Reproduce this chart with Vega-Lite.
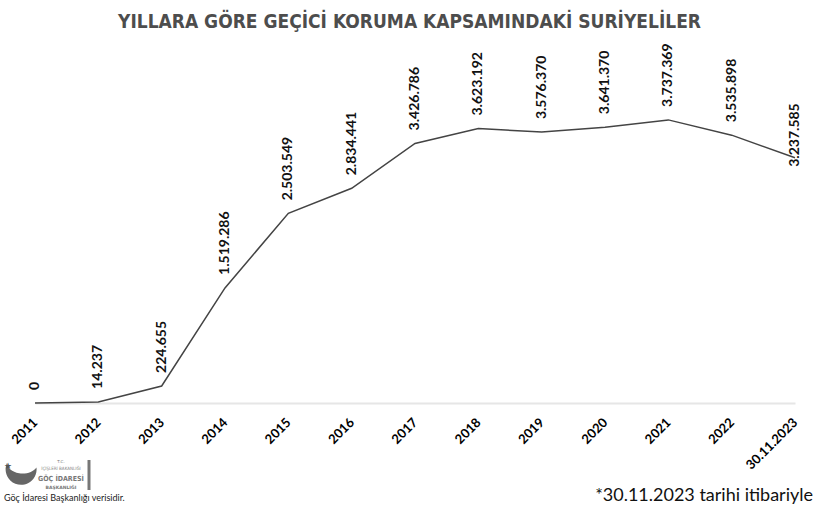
{
  "$schema": "https://vega.github.io/schema/vega-lite/v6.json",
  "width": 811,
  "height": 303,
  "autosize": "none",
  "padding": {"left": 4, "top": 100, "right": 0, "bottom": 106},
  "background": "white",
  "config": {
    "view": {"stroke": null},
    "locale": {"number": {"decimal": ",", "thousands": ".", "grouping": [3], "currency": ["", ""]}}
  },
  "title": {
    "text": "YILLARA GÖRE GEÇİCİ KORUMA KAPSAMINDAKİ SURİYELİLER",
    "frame": "group",
    "anchor": "middle",
    "offset": -4,
    "baseline": "alphabetic",
    "font": "DejaVu Sans Condensed",
    "fontWeight": "bold",
    "fontSize": 19,
    "color": "#4d4d4d"
  },
  "layer": [
    {
      "data": {
        "values": [
          {"year": "2011", "value": 0},
          {"year": "2012", "value": 14237},
          {"year": "2013", "value": 224655},
          {"year": "2014", "value": 1519286},
          {"year": "2015", "value": 2503549},
          {"year": "2016", "value": 2834441},
          {"year": "2017", "value": 3426786},
          {"year": "2018", "value": 3623192},
          {"year": "2019", "value": 3576370},
          {"year": "2020", "value": 3641370},
          {"year": "2021", "value": 3737369},
          {"year": "2022", "value": 3535898},
          {"year": "30.11.2023", "value": 3237585}
        ]
      },
      "encoding": {
        "x": {
          "field": "year", "type": "ordinal", "sort": null,
          "scale": {"type": "point", "range": [31, 791], "padding": 0},
          "axis": {
            "title": null, "ticks": false, "grid": false,
            "domainColor": "#e6e6e6", "domainWidth": 2,
            "labelAngle": -45, "labelAlign": "right", "labelBaseline": "middle",
            "labelPadding": 17, "labelFont": "Lato", "labelFontWeight": "bold",
            "labelFontSize": 13, "labelColor": "#000"
          }
        },
        "y": {
          "field": "value", "type": "quantitative",
          "scale": {"domain": [0, 4000000], "nice": false, "zero": true},
          "axis": null
        }
      },
      "layer": [
        {"mark": {"type": "line", "color": "#444", "strokeWidth": 1.5}},
        {
          "transform": [{"filter": "datum.year != '30.11.2023'"}],
          "mark": {"type": "text", "angle": 270, "align": "left", "baseline": "middle", "dx": 13, "font": "Lato", "fontWeight": "bold", "fontSize": 14, "color": "#111"},
          "encoding": {"text": {"field": "value", "type": "quantitative", "format": ","}}
        },
        {
          "transform": [{"filter": "datum.year == '30.11.2023'"}],
          "mark": {"type": "text", "angle": 270, "align": "left", "baseline": "middle", "dx": -9, "font": "Lato", "fontWeight": "bold", "fontSize": 14, "color": "#111"},
          "encoding": {"text": {"field": "value", "type": "quantitative", "format": ","}}
        }
      ]
    },
    {
      "data": {"values": [{}]},
      "mark": {"type": "text", "text": "*30.11.2023 tarihi itibariyle", "align": "right", "baseline": "alphabetic", "font": "Lato", "fontSize": 18, "color": "#111"},
      "encoding": {"x": {"value": 809}, "y": {"value": 401}}
    },
    {
      "data": {"values": [{}]},
      "mark": {"type": "text", "text": "Göç İdaresi Başkanlığı verisidir.", "align": "left", "baseline": "alphabetic", "font": "Lato", "fontSize": 9, "color": "#222"},
      "encoding": {"x": {"value": 0}, "y": {"value": 401}}
    },
    {
      "data": {"values": [{}]},
      "mark": {"type": "point", "shape": "M -0.9 -0.4 A 1 1 0 1 0 1 -0.1 A 1 0.7 0 0 1 -0.9 -0.4 Z", "filled": true, "color": "#666", "opacity": 1},
      "encoding": {"x": {"value": 17}, "y": {"value": 369}, "size": {"value": 961}}
    },
    {
      "data": {"values": [{}]},
      "mark": {"type": "text", "text": "★", "align": "center", "baseline": "middle", "font": "DejaVu Sans", "fontSize": 9, "color": "#555"},
      "encoding": {"x": {"value": 4}, "y": {"value": 366}}
    },
    {
      "data": {"values": [{}]},
      "mark": {"type": "text", "text": "T.C.", "align": "center", "baseline": "middle", "font": "DejaVu Sans", "fontSize": 4, "color": "#777"},
      "encoding": {"x": {"value": 57}, "y": {"value": 362}}
    },
    {
      "data": {"values": [{}]},
      "mark": {"type": "text", "text": "İÇİŞLERİ BAKANLIĞI", "align": "center", "baseline": "middle", "font": "DejaVu Sans Condensed", "fontSize": 4.5, "color": "#888"},
      "encoding": {"x": {"value": 57}, "y": {"value": 369}}
    },
    {
      "data": {"values": [{}]},
      "mark": {"type": "text", "text": "GÖÇ İDARESİ", "align": "center", "baseline": "middle", "font": "DejaVu Sans Condensed", "fontWeight": "bold", "fontSize": 7, "color": "#777"},
      "encoding": {"x": {"value": 57}, "y": {"value": 379}}
    },
    {
      "data": {"values": [{}]},
      "mark": {"type": "text", "text": "BAŞKANLIĞI", "align": "center", "baseline": "middle", "font": "DejaVu Sans", "fontWeight": "bold", "fontSize": 4.5, "letterSpacing": 1.8, "color": "#777"},
      "encoding": {"x": {"value": 57}, "y": {"value": 388}}
    },
    {
      "data": {"values": [{}]},
      "mark": {"type": "rule", "strokeWidth": 3, "color": "#777"},
      "encoding": {"x": {"value": 85}, "y": {"value": 360}, "y2": {"value": 390}}
    }
  ]
}
